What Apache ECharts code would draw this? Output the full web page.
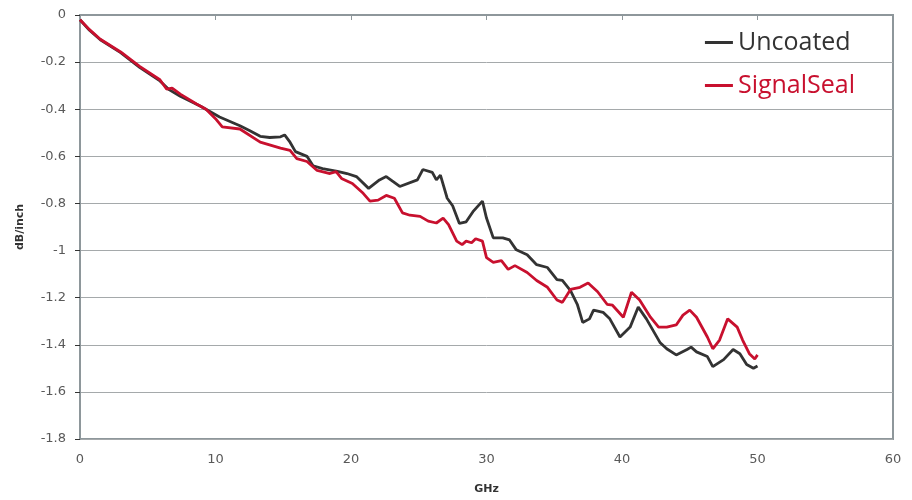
<!DOCTYPE html>
<html>
<head>
<meta charset="utf-8">
<script src="https://cdn.jsdelivr.net/npm/echarts@6/dist/echarts.min.js"></script>
<style>
html,body{margin:0;padding:0;background:#fff;}
#chart{width:912px;height:500px;}
</style>
</head>
<body>
<div id="chart"></div>
<script>
// Frequency (GHz), loss (dB/inch)
const uncoated = [[0,-0.02],[0.3,-0.04],[0.7,-0.065],[1.5,-0.105],[3,-0.16],[4.4,-0.222],[5.9,-0.28],[6.6,-0.318],[7.4,-0.345],[8.9,-0.387],[10.3,-0.433],[11.8,-0.47],[12.5,-0.49],[13.3,-0.515],[14,-0.52],[14.8,-0.517],[15.1,-0.509],[15.5,-0.54],[15.9,-0.58],[16.75,-0.60],[17.2,-0.64],[17.9,-0.652],[19,-0.664],[19.7,-0.673],[20.4,-0.686],[21.3,-0.736],[22.1,-0.70],[22.6,-0.686],[23.6,-0.728],[24.9,-0.70],[25.3,-0.656],[26,-0.668],[26.3,-0.70],[26.6,-0.68],[27.1,-0.778],[27.5,-0.81],[28,-0.885],[28.5,-0.878],[29,-0.835],[29.7,-0.79],[30,-0.862],[30.5,-0.946],[31.2,-0.946],[31.7,-0.955],[32.2,-0.997],[33,-1.018],[33.7,-1.06],[34.5,-1.072],[35.2,-1.123],[35.6,-1.127],[36.2,-1.17],[36.7,-1.228],[37.1,-1.305],[37.6,-1.29],[37.9,-1.253],[38.6,-1.262],[39.1,-1.29],[39.85,-1.367],[40.6,-1.325],[41.2,-1.24],[41.8,-1.29],[42.8,-1.39],[43.3,-1.417],[44,-1.443],[44.8,-1.42],[45.1,-1.41],[45.5,-1.43],[46.3,-1.45],[46.7,-1.493],[47.5,-1.463],[48.2,-1.42],[48.7,-1.438],[49.2,-1.484],[49.7,-1.50],[50,-1.49]];
const signalSeal = [[0,-0.02],[0.3,-0.038],[0.7,-0.062],[1.5,-0.103],[3,-0.157],[4.4,-0.218],[5.9,-0.275],[6.4,-0.315],[6.8,-0.31],[7.4,-0.336],[8.6,-0.378],[9.3,-0.40],[10,-0.44],[10.5,-0.475],[11.8,-0.484],[13.3,-0.54],[14.8,-0.565],[15.5,-0.575],[16,-0.61],[16.75,-0.622],[17.5,-0.66],[18.45,-0.673],[18.9,-0.665],[19.3,-0.694],[20.1,-0.715],[20.9,-0.757],[21.4,-0.79],[22,-0.786],[22.6,-0.766],[23.2,-0.778],[23.8,-0.84],[24.35,-0.85],[25.1,-0.855],[25.7,-0.875],[26.3,-0.883],[26.8,-0.862],[27.2,-0.89],[27.8,-0.96],[28.2,-0.975],[28.5,-0.96],[28.9,-0.967],[29.2,-0.95],[29.7,-0.96],[30,-1.03],[30.5,-1.05],[31.1,-1.043],[31.6,-1.08],[32.1,-1.064],[33,-1.093],[33.7,-1.127],[34.5,-1.156],[35.2,-1.21],[35.6,-1.22],[36.2,-1.165],[36.9,-1.156],[37.5,-1.138],[38.2,-1.175],[38.9,-1.228],[39.3,-1.232],[40.1,-1.283],[40.7,-1.177],[41.3,-1.21],[42.1,-1.283],[42.7,-1.325],[43.3,-1.325],[44,-1.316],[44.5,-1.274],[45,-1.253],[45.5,-1.283],[46.3,-1.367],[46.7,-1.417],[47.2,-1.38],[47.8,-1.29],[48.5,-1.325],[48.9,-1.38],[49.4,-1.438],[49.8,-1.46],[50,-1.443]];
const seriesNames = ['Uncoated','SignalSeal'];
const xAxisTitle = 'GHz';
const yAxisTitle = 'dB/inch';

const chart = echarts.init(document.getElementById('chart'), null, {renderer:'canvas'});
const labelFont = {color:'#595959', fontSize:13, fontFamily:'DejaVu Sans'};
chart.setOption({
  animation:false,
  backgroundColor:'#fff',
  grid:{left:80, right:19, top:15, bottom:57, show:true, borderColor:'#8e979b', borderWidth:2, backgroundColor:'transparent'},
  legend:{
    orient:'vertical', right:52, top:25, itemGap:18, itemWidth:28, itemHeight:3,
    icon:'rect',
    textStyle:{fontSize:25, fontFamily:'Open Sans', padding:[0,0,0,0]},
    data:[
      {name:seriesNames[0], textStyle:{color:'#333333'}},
      {name:seriesNames[1], textStyle:{color:'#c8102e'}}
    ]
  },
  xAxis:{
    type:'value', min:0, max:60, interval:10,
    name:xAxisTitle, nameLocation:'middle', nameGap:45,
    nameTextStyle:{fontSize:11, fontWeight:'bold', color:'#333', fontFamily:'DejaVu Sans'},
    axisLine:{show:true, lineStyle:{color:'#8e979b', width:2}},
    axisTick:{show:true, length:5, lineStyle:{color:'#8e979b'}},
    axisLabel:Object.assign({margin:14}, labelFont),
    splitLine:{show:false}
  },
  yAxis:{
    type:'value', min:-1.8, max:0, interval:0.2,
    name:yAxisTitle, nameLocation:'middle', nameGap:54, nameRotate:90,
    nameTextStyle:{fontSize:11, fontWeight:'bold', color:'#333', fontFamily:'DejaVu Sans'},
    axisLine:{show:true, onZero:false, lineStyle:{color:'#8e979b', width:2}},
    axisTick:{show:true, length:5, lineStyle:{color:'#333'}},
    axisLabel:Object.assign({margin:14, formatter:v=>String(Math.round(v*10)/10)}, labelFont),
    splitLine:{show:true, lineStyle:{color:'#a5a9ab', width:1}}
  },
  series:[
    {name:seriesNames[0], type:'line', data:uncoated, showSymbol:false, symbol:'none',
     lineStyle:{color:'#333333', width:2.8}, itemStyle:{color:'#333333'}, z:2},
    {name:seriesNames[1], type:'line', data:signalSeal, showSymbol:false, symbol:'none',
     lineStyle:{color:'#c8102e', width:2.8}, itemStyle:{color:'#c8102e'}, z:3}
  ]
});
</script>
</body>
</html>
